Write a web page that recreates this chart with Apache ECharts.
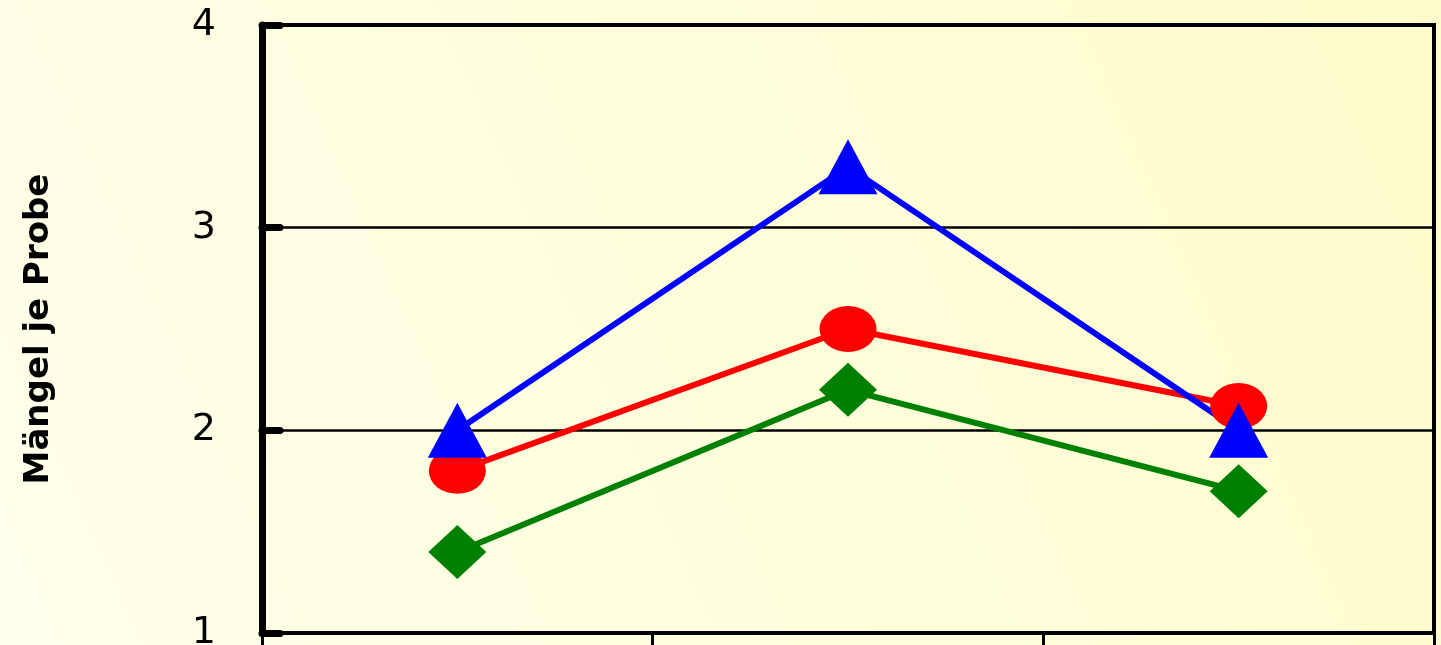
<!DOCTYPE html>
<html>
<head>
<meta charset="utf-8">
<script src="https://cdn.jsdelivr.net/npm/echarts@6/dist/echarts.min.js"></script>
<style>
  html, body { margin: 0; padding: 0; }
  #chart { width: 1441px; height: 645px; }
</style>
</head>
<body>
<div id="chart"></div>
<script>
// categories are cut off below the picture
const categories = ['', '', ''];
const greenValues = [1.4, 2.2, 1.7];
const redValues = [1.8, 2.5, 2.12];
const blueValues = [2.0, 3.3, 2.0];
const yTicks = [1, 4, 1]; // min, max, interval

const myChart = echarts.init(document.getElementById('chart'));

const option = {
    backgroundColor: new echarts.graphic.LinearGradient(1, 0, 0, 1, [
        { offset: 0, color: '#FDFCCB' },
        { offset: 1, color: '#FFFFEC' }
    ]),
    animation: false,
    grid: {
        left: 262,
        right: 7,
        top: 25,
        bottom: 12,
        outerBoundsMode: 'none',
        show: true,
        borderColor: '#000',
        borderWidth: 4
    },
    xAxis: {
        type: 'category',
        data: categories,
        boundaryGap: true,
        axisLine: { lineStyle: { color: '#000', width: 4 } },
        axisTick: { show: true, length: 14, lineStyle: { color: '#000', width: 3 } },
        axisLabel: { show: false },
        splitLine: { show: false }
    },
    yAxis: {
        type: 'value',
        min: yTicks[0],
        max: yTicks[1],
        interval: yTicks[2],
        name: 'Mängel je Probe',
        nameLocation: 'middle',
        nameGap: 206,
        nameTextStyle: {
            color: '#000',
            fontFamily: 'DejaVu Sans',
            fontWeight: 'bold',
            fontSize: 34
        },
        axisLine: { show: true, lineStyle: { color: '#000', width: 7, cap: 'round' } },
        axisTick: { show: true, inside: true, length: 18, lineStyle: { color: '#000', width: 7, cap: 'round' } },
        axisLabel: {
            color: '#000',
            fontFamily: 'DejaVu Sans',
            fontSize: 38,
            margin: 46
        },
        splitLine: { show: true, lineStyle: { color: '#000', width: 2.5 } }
    },
    series: [
        {
            name: 'green',
            type: 'line',
            data: greenValues,
            symbol: 'diamond',
            symbolSize: [58, 54],
            lineStyle: { color: '#008000', width: 6 },
            itemStyle: { color: '#008000' }
        },
        {
            name: 'red',
            type: 'line',
            data: redValues,
            symbol: 'circle',
            symbolSize: [57, 46],
            lineStyle: { color: '#FF0000', width: 6 },
            itemStyle: { color: '#FF0000' }
        },
        {
            name: 'blue',
            type: 'line',
            data: blueValues,
            symbol: 'triangle',
            symbolSize: [59, 55],
            lineStyle: { color: '#0000FF', width: 6 },
            itemStyle: { color: '#0000FF' }
        }
    ]
};
myChart.setOption(option);
</script>
</body>
</html>
